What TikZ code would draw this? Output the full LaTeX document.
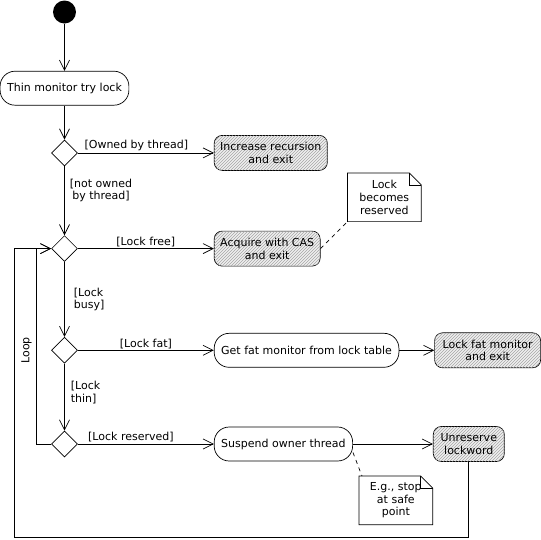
\documentclass[tikz,border=0pt]{standalone}
\usepackage{fontspec}
\setmainfont{DejaVu Sans}
\usetikzlibrary{shapes.geometric, arrows.meta, positioning, patterns}

% note with a folded corner, drawn round a named node
\newcommand{\drawnote}[1]{%
  \draw (#1.south west) -- (#1.north west) -- ([xshift=-12pt]#1.north east)
    -- ([yshift=-12pt]#1.north east) -- (#1.south east) -- cycle;
  \draw ([xshift=-12pt]#1.north east) |- ([yshift=-12pt]#1.north east);
}

\begin{document}
\begin{tikzpicture}[
  line width=0.7pt,
  every node/.style={font=\fontsize{11}{12.7}\selectfont},
  actbox/.style={rectangle, draw, rounded corners=15pt, align=center, minimum height=34pt, inner xsep=7pt},
  exitbox/.style={rectangle, draw, rounded corners=8pt, align=center, minimum height=35pt, inner xsep=6pt, fill=gray!12, postaction={pattern=north east lines, pattern color=gray!70}},
  choice/.style={diamond, draw, fill=white, minimum width=26pt, minimum height=26pt, inner sep=0pt},
  startdot/.style={circle, fill=black, minimum size=23pt, inner sep=0pt},
  guardlbl/.style={inner sep=1.5pt},
  notebox/.style={minimum width=73pt, minimum height=48pt, align=center},
  arrow/.style={-{Straight Barb[length=10pt,width=10pt]}},
  notelink/.style={dash pattern=on 4pt off 4pt}
]
\useasboundingbox (-64.5pt,12pt) rectangle (476.5pt,-527pt);

\node[startdot] (start) {};
\node[actbox, below=47pt of start] (thin) {Thin monitor try lock};
\node[choice, below=34pt of thin] (d1) {};
\node[choice, below=69pt of d1] (d2) {};
\node[choice, below=75pt of d2] (d3) {};
\node[choice, below=67pt of d3] (d4) {};

\node[exitbox, right=136pt of d1] (incr) {Increase recursion\\and exit};
\node[exitbox, right=136pt of d2] (cas) {Acquire with CAS\\and exit};
\node[actbox, right=136pt of d3] (fat) {Get fat monitor from lock table};
\node[exitbox, right=35pt of fat, minimum width=106pt] (lockfat) {Lock fat monitor\\and exit};
\node[actbox, right=136pt of d4] (susp) {Suspend owner thread};
\node[exitbox, right=80pt of susp, minimum width=71pt] (unres) {Unreserve\\lockword};

% notes
\node[notebox, above right=27pt and 27pt of cas.east] (note1) {Lock\\becomes\\reserved};
\node[notebox, below right=32pt and 6pt of susp.east] (note2) {E.g., stop\\at safe\\point};
\drawnote{note1}
\drawnote{note2}
\draw[notelink] (cas.east) -- (note1.south west);
\draw[notelink] (susp.-7) -- ([xshift=3pt]note2.north west);

\draw[arrow] (start) -- (thin);
\draw[arrow] (thin) -- (d1);
\draw[arrow] (d1) -- node[guardlbl, above, pos=0.43] {[Owned by thread]} (incr);
\draw[arrow] (d1) -- node[guardlbl, right, pos=0.35, align=center, inner xsep=5pt] {[not owned\\by thread]} (d2);
\draw[arrow] (d2) -- node[guardlbl, above] {[Lock free]} (cas);
\draw[arrow] (d2) -- node[guardlbl, right, align=left, inner xsep=9pt] {[Lock\\busy]} (d3);
\draw[arrow] (d3) -- node[guardlbl, above] {[Lock fat]} (fat);
\draw[arrow] (fat) -- (lockfat);
\draw[arrow] (d3) -- node[guardlbl, right, pos=0.43, align=left, inner xsep=6pt] {[Lock\\thin]} (d4);
\draw[arrow] (d4) -- node[guardlbl, above, pos=0.39] {[Lock reserved]} (susp);
\draw[arrow] (susp) -- (unres);

% loop back
\draw[arrow] (unres.south) -- ++(0,-75pt) -| ([xshift=-37pt]d2.west) -- (d2.west);
\draw[arrow] (d4.west) -- ++(-15pt,0) |- (d2.west);
\node[rotate=90] (looplbl) at ([xshift=-38pt]d3.center) {Loop};
\end{tikzpicture}
\end{document}
